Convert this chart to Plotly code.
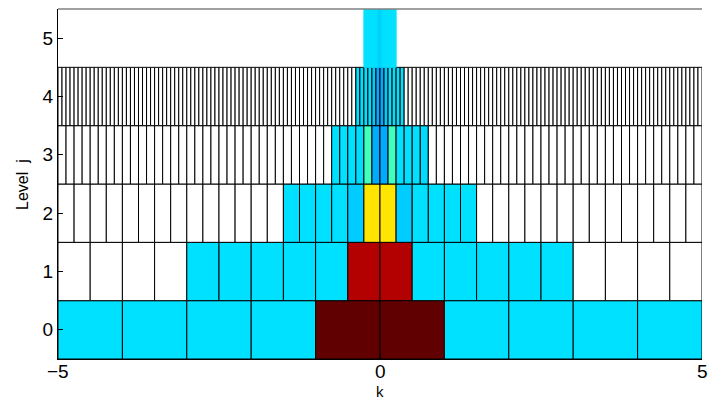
import plotly.graph_objects as go

# Domain and levels of the dyadic tiling
K_MIN, K_MAX = -5.0, 5.0
levels = [0, 1, 2, 3, 4, 5]
k_ticks = [-5, 0, 5]
k_tick_text = ["\u22125", "0", "5"]

# Normalised coefficient magnitudes per level (0 = no coefficient -> white cell)
level0 = [0.346, 0.346, 0.346, 0.346, 1.0, 1.0, 0.346, 0.346, 0.346, 0.346]
level1 = [0, 0, 0, 0, 0.346, 0.346, 0.346, 0.346, 0.346, 0.935,
          0.935, 0.346, 0.346, 0.346, 0.346, 0.346, 0, 0, 0, 0]
level2_active = [0.346, 0.346, 0.346, 0.346, 0.325, 0.65,
                 0.65, 0.325, 0.346, 0.346, 0.346, 0.346]
level3_active = [0.346, 0.346, 0.346, 0.340, 0.4375, 0.292,
                 0.292, 0.4375, 0.346, 0.346, 0.346, 0.340]
level4_active = [0.346, 0.346, 0.346, 0.346, 0.325, 0.292,
                 0.292, 0.325, 0.346, 0.346, 0.346, 0.346]
level5_active = [0.346, 0.346, 0.346, 0.346, 0.346, 0.346, 0.346, 0.33,
                 0.33, 0.346, 0.346, 0.346, 0.346, 0.346, 0.346, 0.346]

# Index of first active cell on each finer level
level2_start = 14   # -1.5 / 0.25 cells
level3_start = 34   # -0.75 / 0.125 cells
level4_start = 74   # -0.375 / 0.0625 cells
level5_start = 152  # -0.25 / 0.03125 cells

x_label = "k"
y_label = "Level  j"


def full_level(j, active, start):
    n = int(round((K_MAX - K_MIN) * 2 ** j))
    vals = [0.0] * n
    vals[start:start + len(active)] = active
    return vals


level_values = {
    0: level0,
    1: level1,
    2: full_level(2, level2_active, level2_start),
    3: full_level(3, level3_active, level3_start),
    4: full_level(4, level4_active, level4_start),
    5: full_level(5, level5_active, level5_start),
}

# jet-like colour map with a white floor for empty cells and a dark top
colorscale = [
    [0.0, "#ffffff"], [0.01, "#ffffff"],
    [0.01, "#00008f"], [0.125, "#0000ff"], [0.375, "#00ffff"],
    [0.625, "#ffff00"], [0.875, "#ff0000"], [1.0, "#600000"],
]

fig = go.Figure()
for j in levels:
    vals = level_values[j]
    w = 2.0 ** (-j)
    if j == 5:
        # finest level: only populated cells, outlined in their own colour
        idx = [i for i, v in enumerate(vals) if v > 0]
        line = dict(color=[vals[i] for i in idx], colorscale=colorscale,
                    cmin=0, cmax=1, width=1)
    else:
        idx = list(range(len(vals)))
        line = dict(color="#000000", width=1)
    centers = [K_MIN + (i + 0.5) * w for i in idx]
    fig.add_trace(go.Bar(
        x=centers,
        y=[1.0] * len(idx),
        base=[j - 0.5] * len(idx),
        width=[w] * len(idx),
        marker=dict(
            color=[vals[i] for i in idx],
            colorscale=colorscale,
            cmin=0, cmax=1,
            showscale=False,
            line=line,
        ),
        hoverinfo="skip",
        showlegend=False,
    ))

fig.add_shape(type="line", xref="paper", yref="paper", x0=0, x1=1, y0=1, y1=1,
              line=dict(color="#808080", width=1.5))

# k tick labels and axis titles placed as annotations for exact positioning
for kv, kt in zip(k_ticks, k_tick_text):
    fig.add_annotation(text=kt, xref="x", yref="paper", x=kv, y=-0.037,
                       xanchor="center", yanchor="middle", showarrow=False,
                       font=dict(size=19), borderpad=0)
fig.add_annotation(text=x_label, xref="x", yref="paper", x=0, y=-0.094,
                   xanchor="center", yanchor="middle", showarrow=False,
                   font=dict(size=15), borderpad=0)
fig.add_annotation(text=y_label, xref="paper", yref="paper", x=-0.056, y=0.5,
                   xanchor="center", yanchor="middle", textangle=-90,
                   showarrow=False, font=dict(size=16))

fig.update_layout(
    width=710, height=400,
    margin=dict(l=58, r=8, t=9, b=41),
    paper_bgcolor="white", plot_bgcolor="white",
    barmode="overlay",
    font=dict(family="Liberation Sans, Arial, sans-serif", color="#000000"),
    xaxis=dict(
        range=[K_MIN, K_MAX], tickvals=k_ticks, showticklabels=False,
        ticks="inside", ticklen=5, tickcolor="#000000",
        showline=True, linecolor="#000000", linewidth=1,
        showgrid=False, zeroline=False, automargin=False,
    ),
    yaxis=dict(
        range=[-0.5, 5.5], tickvals=levels,
        ticks="inside", ticklen=5, tickcolor="#000000",
        showline=True, linecolor="#000000", linewidth=1,
        showgrid=False, zeroline=False, automargin=False,
        tickfont=dict(size=19),
    ),
)

fig.write_html("out.html")
